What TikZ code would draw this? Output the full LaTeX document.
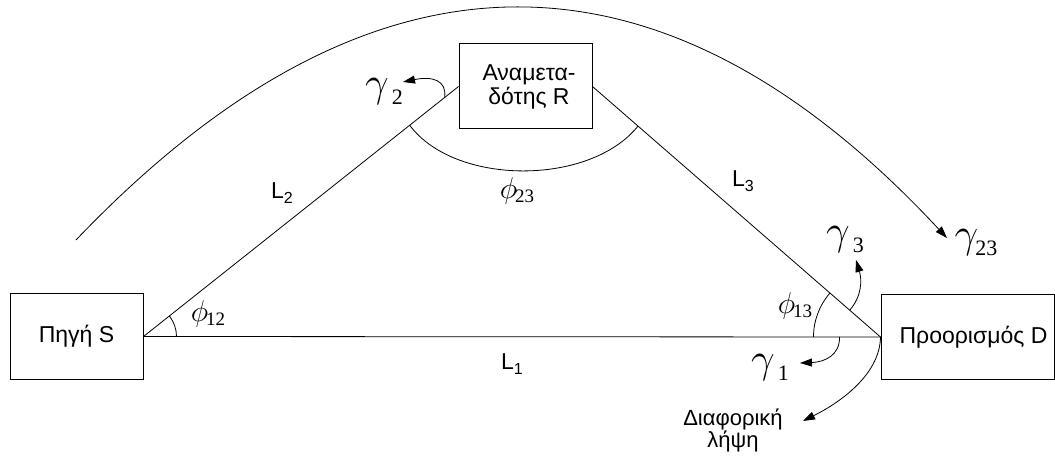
\documentclass[tikz,border=0pt]{standalone}
\usepackage{fix-cm}
\usepackage{fontspec}
\setmainfont{Liberation Sans}
\newfontfamily\serifgr{Liberation Serif}
\usetikzlibrary{arrows.meta,calc}
\newcommand{\gm}[1]{{\fontsize{42}{42}\selectfont$\gamma$}}
\newcommand{\gsub}[1]{{\serifgr\fontsize{22}{22}\selectfont #1}}
\newcommand{\ph}{{\fontsize{30}{30}\selectfont$\phi$}}
\newcommand{\phsub}[1]{{\serifgr\fontsize{19}{19}\selectfont #1}}
\newcommand{\lsub}[1]{\raisebox{-5pt}{\fontsize{16}{16}\selectfont #1}}
\begin{document}
\begin{tikzpicture}[x=1pt,y=-1pt,
  box/.style={draw,line width=1pt,inner sep=0pt,font=\fontsize{23}{24}\selectfont,align=center},
  link/.style={line width=0.8pt},
  arr/.style={line width=0.8pt,-{Triangle[length=12pt,width=8pt]}},
  lbl/.style={inner sep=0pt},
  llbl/.style={inner sep=0pt,font=\fontsize{23}{23}\selectfont}]
\useasboundingbox (0,0) rectangle (1055,462);
\node[box,minimum width=133pt,minimum height=85pt] (S) at (76.5,336.5) {Πηγή S};
\node[box,minimum width=133pt,minimum height=85pt] (R) at (525.5,86.5) {\hspace*{7pt}Αναμετα-\\\hspace*{7pt}δότης R};
\node[box,minimum width=173pt,minimum height=84pt] (D) at (967.5,337) {\hspace*{12pt}Προορισμός D};
\draw[link] (S.east) -- (D.west);
\draw[link] (S.east) -- (R.west);
\draw[link] (R.east) -- (D.west);
% labels
\node[llbl] (L1) at (512,364) {L\lsub{1}};
\node[llbl] (L2) at (282,193) {L\lsub{2}};
\node[llbl] (L3) at (743,181) {L\lsub{3}};
\node[lbl] (p12) at (208,314) {\ph\hspace{-2pt}\raisebox{-4pt}{\phsub{12}}};
\node[lbl] (p23) at (517,191) {\ph\hspace{-2pt}\raisebox{-4pt}{\phsub{23}}};
\node[lbl] (p13) at (795,306) {\ph\hspace{-2pt}\raisebox{-4pt}{\phsub{13}}};
\node[lbl] (g2) at (384,92) {\gm{γ}\hspace{3pt}\raisebox{-8pt}{\gsub{2}}};
\node[lbl] (g3) at (845,240) {\gm{γ}\hspace{3pt}\raisebox{-8pt}{\gsub{3}}};
\node[lbl] (g1) at (770,368) {\gm{γ}\hspace{3pt}\raisebox{-8pt}{\gsub{1}}};
\node[lbl] (g23) at (976,243) {\gm{γ}\hspace{-3pt}\raisebox{-8pt}{\gsub{23}}};
\node[lbl,align=center,font=\fontsize{22}{22}\selectfont] (dl) at (733,430) {Διαφορική\\λήψη};
% angle arcs
\draw[link] ($(S.east)+(33,0)$) arc[start angle=0,end angle=38.4,radius=33pt];
\draw[link] ($(D.west)+(-67,0)$) arc[start angle=180,end angle=139.1,radius=67pt];
\coordinate (a23s) at ($(S.east)!0.845!(R.west)$);
\coordinate (a23e) at ($(R.east)!0.158!(D.west)$);
\draw[link] (a23s) .. controls (455,186) and (590,186) .. (a23e);
% gamma arrows
\coordinate (g2s) at ($(S.east)!0.956!(R.west)$);
\draw[arr] (g2s) .. controls (447,80) and (432,76) .. (403,82);
\coordinate (g3s) at ($(D.west)!0.107!(R.east)$);
\draw[arr] (g3s) .. controls (862,296) and (862,280) .. (856,260);
\coordinate (g1s) at ($(D.west)!0.0556!(S.east)$);
\draw[arr] (g1s) .. controls (840,355) and (825,362) .. (800,363);
\draw[arr] (D.west) .. controls (880,372) and (845,400) .. (803,421);
% big arc
\coordinate (bigs) at (76,240);
\draw[arr] (bigs) .. controls (370.7,-68.7) and (661.3,-69.3) .. (947,238);
\end{tikzpicture}
\end{document}
